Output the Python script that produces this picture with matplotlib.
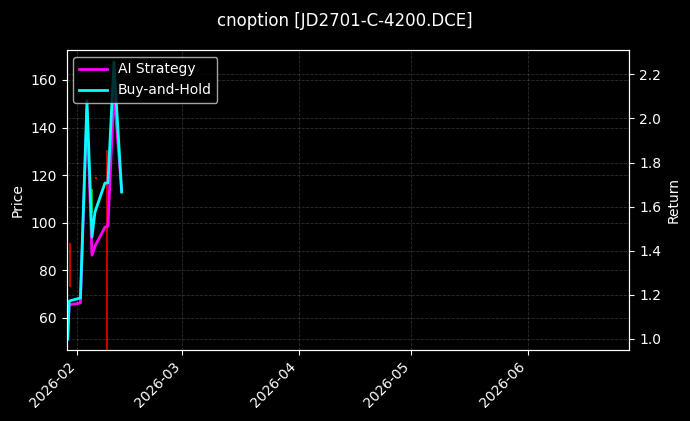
import matplotlib
matplotlib.use("Agg")
import matplotlib.pyplot as plt
import matplotlib.dates as mdates
import pandas as pd

# strategy / benchmark equity
ret_times = ["2026-01-29 09:20", "2026-01-29 19:30", "2026-02-01 19:00",
             "2026-02-03 13:00", "2026-02-04 21:00", "2026-02-05 16:00",
             "2026-02-08 08:00", "2026-02-09 03:00", "2026-02-10 17:30",
             "2026-02-12 19:00"]
ai_strategy = [1.00, 1.155, 1.163, 2.04, 1.38, 1.42, 1.507, 1.512, 2.12, 1.668]
buy_hold = [1.00, 1.172, 1.186, 2.08, 1.462, 1.575, 1.707, 1.707, 2.255, 1.666]

# daily high/low wicks of the option price
bar_dates = ["2026-01-30", "2026-02-05", "2026-02-06", "2026-02-09"]
bar_high = [91.5, 114.0, 119.2, 130.6]
bar_low = [73.0, 104.0, 118.4, 30.0]
bar_up = [False, True, False, False]

plt.style.use("dark_background")
fig, ax = plt.subplots(figsize=(6.9, 4.21), dpi=100)
fig.subplots_adjust(left=66.5 / 690, right=629.4 / 690, top=1 - 50 / 421, bottom=1 - 350 / 421)

bd = pd.to_datetime(bar_dates)
ax.vlines(bd, bar_low, bar_high, colors=["#00c000" if u else "#e00000" for u in bar_up], linewidth=1.3)
ax.set_ylim(46.5, 172.6)
ax.set_ylabel("Price")
ax.grid(True, linestyle="--", color="gray", alpha=0.35, linewidth=0.6)

ax2 = ax.twinx()
rt = pd.to_datetime(ret_times)
ax2.plot(rt, ai_strategy, color="#ff00ff", linewidth=2, label="AI Strategy")
ax2.plot(rt, buy_hold, color="#00ffff", linewidth=2, label="Buy-and-Hold")
ax2.set_ylim(0.95, 2.31)
ax2.set_ylabel("Return")
ax2.grid(True, linestyle="--", color="gray", alpha=0.35, linewidth=0.6)
ax2.legend(loc="upper left")

ax.set_xlim(pd.Timestamp("2026-01-29 02:00"), pd.Timestamp("2026-06-28 03:00"))
ax.xaxis.set_major_locator(mdates.MonthLocator())
ax.xaxis.set_major_formatter(mdates.DateFormatter("%Y-%m"))
plt.setp(ax.get_xticklabels(), rotation=45, ha="right")

fig.suptitle("cnoption [JD2701-C-4200.DCE]", fontsize=12, y=0.972)
fig.savefig("out.png", dpi=100)
